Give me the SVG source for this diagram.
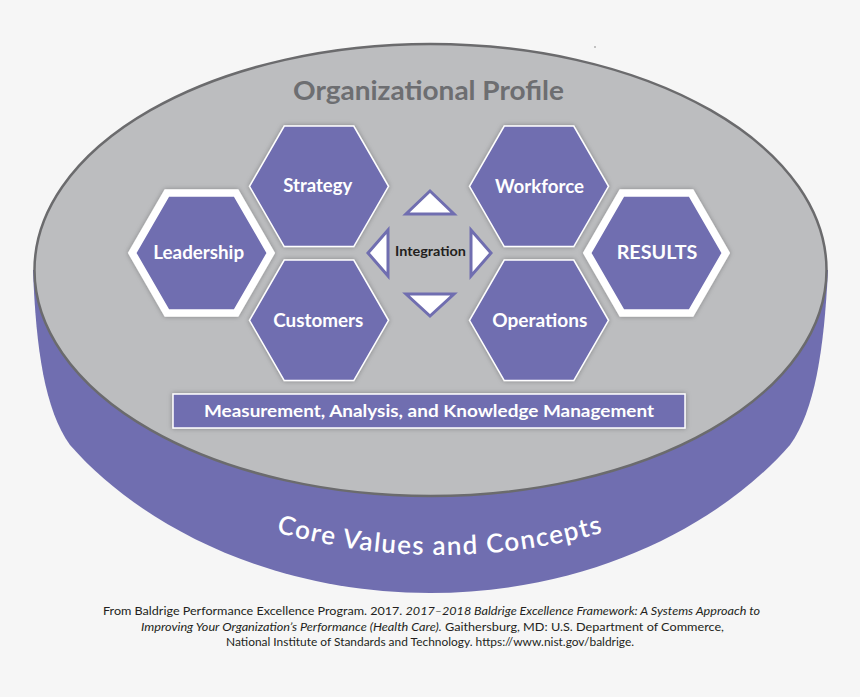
<svg xmlns="http://www.w3.org/2000/svg" xmlns:xlink="http://www.w3.org/1999/xlink" width="860" height="697" viewBox="0 0 860 697">
  <style>
    .purple { fill: #706eb0; }
    .hex { fill: #706eb0; stroke: #ffffff; stroke-width: 1.5; stroke-linejoin: miter; filter: url(#sh); }
    .hexb { fill: #706eb0; stroke: #ffffff; stroke-width: 7.5; stroke-linejoin: miter; filter: url(#sh); }
    .lbl { font-family: Lato, "Open Sans", "Liberation Sans", sans-serif; font-weight: 700; fill: #ffffff; text-anchor: middle; }
    .tri { fill: #ffffff; stroke: #706eb0; stroke-width: 3; stroke-linejoin: miter; }
    .foot { font-family: Lato, "Liberation Sans", sans-serif; font-size: 11.5px; fill: #231f20; text-anchor: middle; }
    .it { font-style: italic; }
  </style>
  <defs>
    <filter id="sh" x="-20%" y="-20%" width="140%" height="140%">
      <feDropShadow dx="0" dy="0" stdDeviation="2.5" flood-color="#000000" flood-opacity="0.3"/>
    </filter>
    <polygon id="hx" points="-69.5,0 -34.75,-60.2 34.75,-60.2 69.5,0 34.75,60.2 -34.75,60.2"/>
    <polygon id="hxb" points="-69.3,0 -34.65,-60 34.65,-60 69.3,0 34.65,60 -34.65,60"/>
    <path id="arc" d="M 230 517 A 600 600 0 0 0 650 517"/>
  </defs>

  <rect x="0" y="0" width="860" height="697" fill="#f6f6f6"/>
  <circle cx="595" cy="47" r="1" fill="#b0b0b0"/>

  <g id="base">
    <path class="purple" d="M 33 270 C 36 350 45 410 70 445 C 140 525 270 593 430 593 C 590 593 720 525 790 445 C 815 410 824 350 828 270 Z"/>
    <ellipse cx="430.5" cy="270" rx="396" ry="226" fill="#bcbdbf" stroke="#6b6b6d" stroke-width="2.5"/>
    <text font-family="Lato, 'Open Sans', 'Liberation Sans', sans-serif" font-size="26" fill="#ffffff" font-weight="600" letter-spacing="1.4">
      <textPath xlink:href="#arc" startOffset="50%" text-anchor="middle">Core Values and Concepts</textPath>
    </text>
  </g>

  <g id="organizational-profile">
    <text x="428.5" y="100" font-family="Lato, 'Open Sans', 'Liberation Sans', sans-serif" font-size="27" font-weight="700" fill="#6d6e71" text-anchor="middle" textLength="271" lengthAdjust="spacingAndGlyphs">Organizational Profile</text>
  </g>

  <g id="leadership">
    <use xlink:href="#hxb" class="hexb" x="201.5" y="253"/>
    <text class="lbl" x="198.7" y="259.3" font-size="19" textLength="90.7" lengthAdjust="spacingAndGlyphs">Leadership</text>
  </g>
  <g id="strategy">
    <use xlink:href="#hx" class="hex" x="319" y="186.3"/>
    <text class="lbl" x="317.8" y="191.7" font-size="19" textLength="69" lengthAdjust="spacingAndGlyphs">Strategy</text>
  </g>
  <g id="customers">
    <use xlink:href="#hx" class="hex" x="319" y="320.3"/>
    <text class="lbl" x="318.3" y="326.7" font-size="19" textLength="90" lengthAdjust="spacingAndGlyphs">Customers</text>
  </g>
  <g id="workforce">
    <use xlink:href="#hx" class="hex" x="539" y="186.3"/>
    <text class="lbl" x="539.5" y="192.7" font-size="19" textLength="89" lengthAdjust="spacingAndGlyphs">Workforce</text>
  </g>
  <g id="operations">
    <use xlink:href="#hx" class="hex" x="539" y="320.3"/>
    <text class="lbl" x="539.8" y="326.7" font-size="19" textLength="95" lengthAdjust="spacingAndGlyphs">Operations</text>
  </g>
  <g id="results">
    <use xlink:href="#hxb" class="hexb" x="656.5" y="253"/>
    <text class="lbl" x="657" y="259.3" font-size="19" textLength="80.7" lengthAdjust="spacingAndGlyphs">RESULTS</text>
  </g>

  <g id="integration">
    <text x="430.5" y="256" font-family="Lato, 'Open Sans', 'Liberation Sans', sans-serif" font-size="14" font-weight="700" fill="#231f20" text-anchor="middle" textLength="71" lengthAdjust="spacingAndGlyphs">Integration</text>
  </g>

  <g id="connectors">
    <polygon class="tri" points="430,191 406,214 454,214"/>
    <polygon class="tri" points="406,294 454,294 430,316"/>
    <polygon class="tri" points="388,230 388,276 368,253"/>
    <polygon class="tri" points="471,230 471,276 491,253"/>
  </g>

  <g id="measurement">
    <rect x="173" y="394" width="512" height="34" fill="#706eb0" stroke="#ffffff" stroke-width="1.5" filter="url(#sh)"/>
    <text class="lbl" x="429" y="417.3" font-size="17" font-weight="600" textLength="450" lengthAdjust="spacingAndGlyphs">Measurement, Analysis, and Knowledge Management</text>
  </g>

  <g id="citation">
    <text class="foot" x="431.5" y="614.5" textLength="657" lengthAdjust="spacingAndGlyphs">From Baldrige Performance Excellence Program. 2017. <tspan class="it">2017–2018 Baldrige Excellence Framework: A Systems Approach to</tspan></text>
    <text class="foot" x="432.5" y="630.5" textLength="583" lengthAdjust="spacingAndGlyphs"><tspan class="it">Improving Your Organization’s Performance (Health Care).</tspan> Gaithersburg, MD: U.S. Department of Commerce,</text>
    <text class="foot" x="430" y="646" textLength="408" lengthAdjust="spacingAndGlyphs">National Institute of Standards and Technology. https://www.nist.gov/baldrige.</text>
  </g>
</svg>
